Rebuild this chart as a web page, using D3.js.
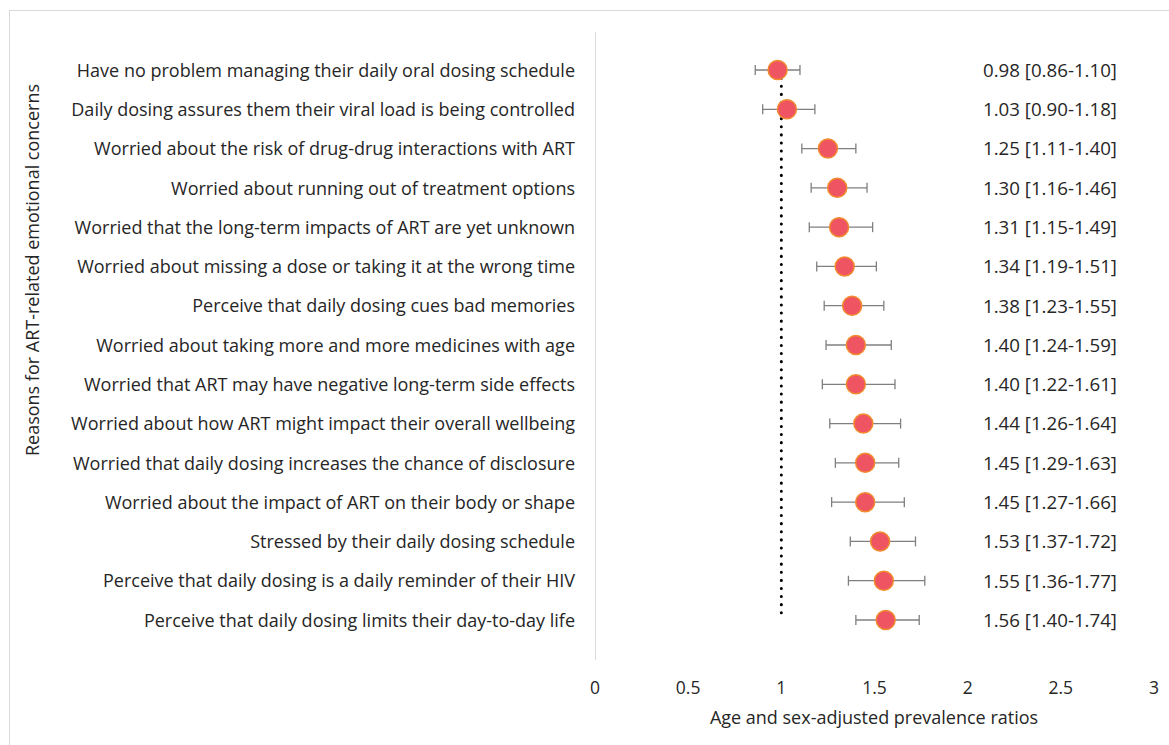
<!DOCTYPE html>
<html>
<head>
<meta charset="utf-8">
<script src="https://cdn.jsdelivr.net/npm/d3@7"></script>
<style>
  body { margin: 0; background: #fff; }
  text { font-family: "Open Sans", sans-serif; fill: #262626; }
</style>
</head>
<body>
<div class="canvas"></div>
<script>
// data
const reasons = [
  'Have no problem managing their daily oral dosing schedule',
  'Daily dosing assures them their viral load is being controlled',
  'Worried about the risk of drug-drug interactions with ART',
  'Worried about running out of treatment options',
  'Worried that the long-term impacts of ART are yet unknown',
  'Worried about missing a dose or taking it at the wrong time',
  'Perceive that daily dosing cues bad memories',
  'Worried about taking more and more medicines with age',
  'Worried that ART may have negative long-term side effects',
  'Worried about how ART might impact their overall wellbeing',
  'Worried that daily dosing increases the chance of disclosure',
  'Worried about the impact of ART on their body or shape',
  'Stressed by their daily dosing schedule',
  'Perceive that daily dosing is a daily reminder of their HIV',
  'Perceive that daily dosing limits their day-to-day life'
];
const ratios = [0.98, 1.03, 1.25, 1.30, 1.31, 1.34, 1.38, 1.40, 1.40, 1.44, 1.45, 1.45, 1.53, 1.55, 1.56];
const lower  = [0.86, 0.90, 1.11, 1.16, 1.15, 1.19, 1.23, 1.24, 1.22, 1.26, 1.29, 1.27, 1.37, 1.36, 1.40];
const upper  = [1.10, 1.18, 1.40, 1.46, 1.49, 1.51, 1.55, 1.59, 1.61, 1.64, 1.63, 1.66, 1.72, 1.77, 1.74];
const xTicks = [0, 0.5, 1, 1.5, 2, 2.5, 3];

const data = reasons.map((r, i) => ({reason: r, pr: ratios[i], lo: lower[i], hi: upper[i]}));

const W = 1169, H = 745;
const svg = d3.select('.canvas').append('svg')
  .attr('width', W).attr('height', H);

// outer frame (cropped at right/bottom)
svg.append('rect')
  .attr('x', 9.5).attr('y', 10.5)
  .attr('width', W).attr('height', H)
  .attr('fill', 'none').attr('stroke', '#d9d9d9');

// scales
const x = d3.scaleLinear().domain([0, 3]).range([595, 1154]);
const y = d3.scalePoint().domain(reasons).range([70, 620]);

// left axis line
svg.append('line')
  .attr('x1', 595.5).attr('x2', 595.5)
  .attr('y1', 32).attr('y2', 660)
  .attr('stroke', '#d9d9d9');

// x tick labels
svg.append('g').selectAll('text')
  .data(xTicks).enter().append('text')
  .attr('x', d => x(d)).attr('y', 694)
  .attr('text-anchor', 'middle')
  .attr('font-size', 17.5)
  .text(d => d);

// axis titles
svg.append('text')
  .attr('x', 874).attr('y', 724)
  .attr('text-anchor', 'middle')
  .attr('font-size', 18)
  .text('Age and sex-adjusted prevalence ratios');

svg.append('text')
  .attr('transform', 'translate(39,270) rotate(-90)')
  .attr('text-anchor', 'middle')
  .attr('font-size', 18)
  .text('Reasons for ART-related emotional concerns');

// reference line at 1 (dotted)
svg.append('line')
  .attr('x1', x(1)).attr('x2', x(1))
  .attr('y1', y(reasons[0])).attr('y2', y(reasons[reasons.length - 1]))
  .attr('stroke', '#000')
  .attr('stroke-width', 3)
  .attr('stroke-linecap', 'round')
  .attr('stroke-dasharray', '0.1 8');

// category labels
svg.append('g').selectAll('text')
  .data(data).enter().append('text')
  .attr('x', 575).attr('y', d => y(d.reason))
  .attr('dy', '0.37em')
  .attr('text-anchor', 'end')
  .attr('font-size', 18)
  .text(d => d.reason);

// value labels
svg.append('g').selectAll('text')
  .data(data).enter().append('text')
  .attr('x', 983).attr('y', d => y(d.reason))
  .attr('dy', '0.37em')
  .attr('font-size', 18.7)
  .text(d => `${d.pr.toFixed(2)} [${d.lo.toFixed(2)}-${d.hi.toFixed(2)}]`);

// error bars
const bars = svg.append('g').attr('stroke', '#7f7f7f').attr('stroke-width', 1.3);
data.forEach(d => {
  const cy = y(d.reason);
  bars.append('line').attr('x1', x(d.lo)).attr('x2', x(d.hi)).attr('y1', cy).attr('y2', cy);
  bars.append('line').attr('x1', x(d.lo)).attr('x2', x(d.lo)).attr('y1', cy - 5).attr('y2', cy + 5);
  bars.append('line').attr('x1', x(d.hi)).attr('x2', x(d.hi)).attr('y1', cy - 5).attr('y2', cy + 5);
});

// points
svg.append('g').selectAll('circle')
  .data(data).enter().append('circle')
  .attr('cx', d => x(d.pr)).attr('cy', d => y(d.reason))
  .attr('r', 9.5)
  .attr('fill', '#ee5462')
  .attr('stroke', '#f28a2e')
  .attr('stroke-width', 1.5);
</script>
</body>
</html>
